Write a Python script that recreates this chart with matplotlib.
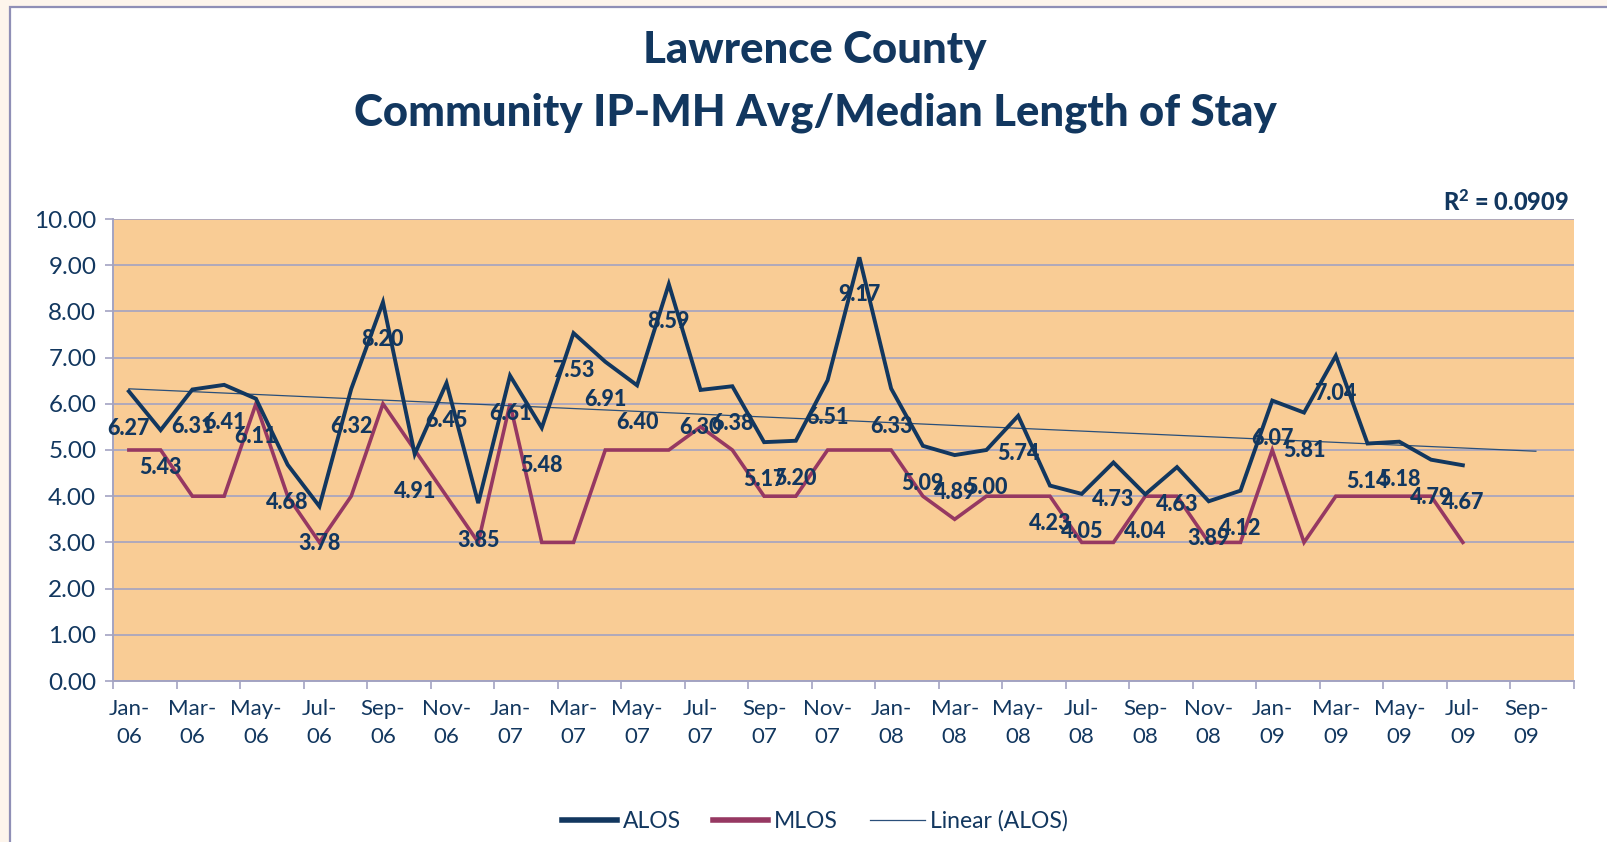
import numpy as np
import matplotlib
matplotlib.use("Agg")
import matplotlib.pyplot as plt
from matplotlib.patches import Rectangle

# Monthly values, Jan-06 .. Jul-09
alos = [6.27, 5.43, 6.31, 6.41, 6.11, 4.68, 3.78, 6.32, 8.20, 4.91, 6.45, 3.85,
        6.61, 5.48, 7.53, 6.91, 6.40, 8.59, 6.30, 6.38, 5.17, 5.20, 6.51, 9.17,
        6.33, 5.09, 4.89, 5.00, 5.74, 4.23, 4.05, 4.73, 4.04, 4.63, 3.89, 4.12,
        6.07, 5.81, 7.04, 5.14, 5.18, 4.79, 4.67]
mlos = [5, 5, 4, 4, 6, 4, 3, 4, 6, 5, 4, 3,
        6, 3, 3, 5, 5, 5, 5.5, 5, 4, 4, 5, 5,
        5, 4, 3.5, 4, 4, 4, 3, 3, 4, 4, 3, 3,
        5, 3, 4, 4, 4, 4, 3]
n_categories = 46  # Jan-06 .. Oct-09 on the axis
tick_labels = ["Jan-\n06", "Mar-\n06", "May-\n06", "Jul-\n06", "Sep-\n06", "Nov-\n06",
               "Jan-\n07", "Mar-\n07", "May-\n07", "Jul-\n07", "Sep-\n07", "Nov-\n07",
               "Jan-\n08", "Mar-\n08", "May-\n08", "Jul-\n08", "Sep-\n08", "Nov-\n08",
               "Jan-\n09", "Mar-\n09", "May-\n09", "Jul-\n09", "Sep-\n09"]
r2_text = "0.0909"

navy = "#12375f"
magenta = "#963862"
grid_col = "#a3a3c2"
plot_bg = "#f9cc95"

plt.rcParams['font.family'] = ['Lato', 'DejaVu Sans']
plt.rcParams['mathtext.fontset'] = 'custom'
plt.rcParams['mathtext.rm'] = 'Lato:black'
plt.rcParams['mathtext.default'] = 'regular'

fig = plt.figure(figsize=(16.08, 8.42), dpi=100, facecolor="#fdf5ec")
fig.patches.append(Rectangle((10 / 1608, -0.05), 1.1, 1.05 - 7 / 842, transform=fig.transFigure,
                             facecolor="white", edgecolor="#8f8fb6", lw=1.6, zorder=-10))

ax = fig.add_axes([113 / 1608, 1 - 681 / 842, (1574 - 113) / 1608, (681 - 219) / 842])
ax.set_facecolor(plot_bg)

x = np.arange(len(alos))
ax.plot(x, alos, color=navy, lw=2.8, label="ALOS", zorder=4, solid_joinstyle='miter')
ax.plot(np.arange(len(mlos)), mlos, color=magenta, lw=2.6, label="MLOS", zorder=3, solid_joinstyle='miter')

# linear trend, forecast forward a couple of periods
coef = np.polyfit(x, alos, 1)
xt = np.append(x, len(alos) + 1.3)
ax.plot(xt, np.polyval(coef, xt), color="#2a4f7a", lw=0.9, label="Linear (ALOS)", zorder=3)

for i, v in enumerate(alos):
    ax.annotate(f"{v:.2f}", (i, v), xytext=(0, -27),
                textcoords="offset points", ha="center", va="center",
                fontsize=15.5, fontweight="black", color=navy, zorder=6)

ax.set_xlim(-0.5, n_categories - 0.5)
ax.set_ylim(0, 10)
ax.set_yticks(np.arange(0, 11, 1))
ax.set_yticklabels([f"{t:.2f}" for t in range(11)])
ax.yaxis.grid(True, color=grid_col, lw=1.2)
ax.set_axisbelow(True)

ax.set_xticks(np.arange(-0.5, n_categories, 2))
ax.set_xticklabels([])
ax.set_xticks(np.arange(0, n_categories - 1, 2), minor=True)
ax.set_xticklabels(tick_labels, minor=True, linespacing=1.5)
ax.tick_params(axis="x", which="minor", length=0, pad=13, labelsize=16, labelcolor=navy)
ax.tick_params(axis="x", which="major", length=6, color=grid_col, width=1.2)
ax.tick_params(axis="y", length=6, color=grid_col, width=1.2, labelsize=17.5, labelcolor=navy, pad=6)

for s in ["top", "right"]:
    ax.spines[s].set_visible(False)
for s in ["left", "bottom"]:
    ax.spines[s].set_color(grid_col)
    ax.spines[s].set_linewidth(1.4)

fig.text(815 / 1608, 1 - 50 / 842, "Lawrence County", ha="center", va="center",
         fontsize=31.5, fontweight="black", color=navy)
fig.text(815 / 1608, 1 - 113 / 842, "Community IP-MH Avg/Median Length of Stay", ha="center", va="center",
         fontsize=31.5, fontweight="black", color=navy)
fig.text(1569 / 1608, 1 - 202 / 842, r"R$^2$ = " + r2_text, ha="right", va="center",
         fontsize=17, fontweight="black", color=navy)

leg = fig.legend(loc="center", bbox_to_anchor=(815 / 1608, 1 - 821 / 842), ncol=3, frameon=False,
                 fontsize=16.5, handlelength=2.4, columnspacing=1.4, handletextpad=0.25)
for t in leg.get_texts():
    t.set_color(navy)
for h in leg.get_lines()[:2]:
    h.set_linewidth(4)

fig.savefig("out.png", dpi=100, facecolor=fig.get_facecolor())
